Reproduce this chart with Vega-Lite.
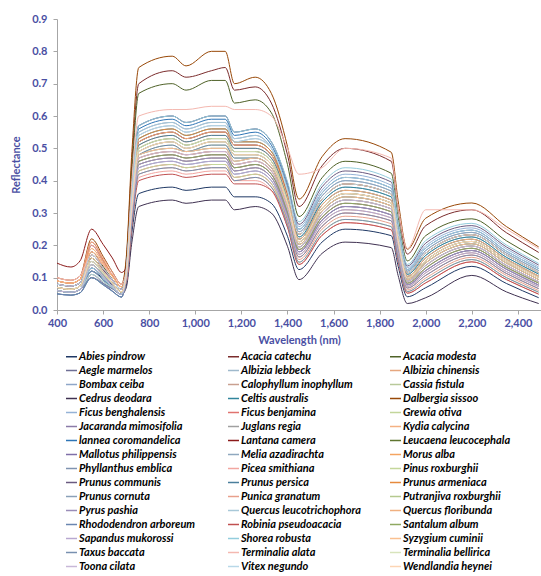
{
"$schema":"https://vega.github.io/schema/vega-lite/v6.json",
"width":484,"height":291,
"autosize":{"type":"none"},
"padding":{"left":57,"top":19,"right":0,"bottom":266},
"background":"white",
"config":{"view":{"stroke":null},"font":"Lato"},
"datasets":{
"sp":[{"k":1,"s":"Abies pindrow"},{"k":2,"s":"Acacia catechu"},{"k":3,"s":"Acacia modesta"},{"k":4,"s":"Aegle marmelos"},{"k":5,"s":"Albizia lebbeck"},{"k":6,"s":"Albizia chinensis"},{"k":7,"s":"Bombax ceiba"},{"k":8,"s":"Calophyllum  inophyllum"},{"k":9,"s":"Cassia fistula"},{"k":10,"s":"Cedrus deodara"},{"k":11,"s":"Celtis australis"},{"k":12,"s":"Dalbergia sissoo"},{"k":13,"s":"Ficus benghalensis"},{"k":14,"s":"Ficus benjamina"},{"k":15,"s":"Grewia otiva"},{"k":16,"s":"Jacaranda  mimosifolia"},{"k":17,"s":"Juglans regia"},{"k":18,"s":"Kydia calycina"},{"k":19,"s":"lannea coromandelica"},{"k":20,"s":"Lantana camera"},{"k":21,"s":"Leucaena leucocephala"},{"k":22,"s":"Mallotus philippensis"},{"k":23,"s":"Melia azadirachta"},{"k":24,"s":"Morus alba"},{"k":25,"s":"Phyllanthus emblica"},{"k":26,"s":"Picea smithiana"},{"k":27,"s":"Pinus roxburghii"},{"k":28,"s":"Prunus communis"},{"k":29,"s":"Prunus persica"},{"k":30,"s":"Prunus armeniaca"},{"k":31,"s":"Prunus cornuta"},{"k":32,"s":"Punica granatum"},{"k":33,"s":"Putranjiva roxburghii"},{"k":34,"s":"Pyrus pashia"},{"k":35,"s":"Quercus leucotrichophora"},{"k":36,"s":"Quercus floribunda"},{"k":37,"s":"Rhododendron  arboreum"},{"k":38,"s":"Robinia pseudoacacia"},{"k":39,"s":"Santalum album"},{"k":40,"s":"Sapandus  mukorossi"},{"k":41,"s":"Shorea robusta"},{"k":42,"s":"Syzygium cuminii"},{"k":43,"s":"Taxus baccata"},{"k":44,"s":"Terminalia alata"},{"k":45,"s":"Terminalia bellirica"},{"k":46,"s":"Toona cilata"},{"k":47,"s":"Vitex negundo"},{"k":48,"s":"Wendlandia heynei"}],
"refl":[
{"k":1,"w":400,"r":0.07},{"k":1,"w":460,"r":0.064},{"k":1,"w":500,"r":0.074},{"k":1,"w":550,"r":0.12},{"k":1,"w":600,"r":0.098},{"k":1,"w":640,"r":0.078},{"k":1,"w":680,"r":0.056},{"k":1,"w":700,"r":0.076},{"k":1,"w":725,"r":0.24},{"k":1,"w":755,"r":0.36},{"k":1,"w":900,"r":0.38},{"k":1,"w":960,"r":0.37},{"k":1,"w":1070,"r":0.38},{"k":1,"w":1130,"r":0.38},{"k":1,"w":1170,"r":0.35},{"k":1,"w":1260,"r":0.35},{"k":1,"w":1330,"r":0.33},{"k":1,"w":1400,"r":0.228},{"k":1,"w":1450,"r":0.125},{"k":1,"w":1550,"r":0.21},{"k":1,"w":1650,"r":0.25},{"k":1,"w":1850,"r":0.23},{"k":1,"w":1880,"r":0.136},{"k":1,"w":1920,"r":0.041},{"k":1,"w":2000,"r":0.069},{"k":1,"w":2200,"r":0.135},{"k":1,"w":2350,"r":0.082},{"k":1,"w":2490,"r":0.038},
{"k":2,"w":400,"r":0.09},{"k":2,"w":460,"r":0.083},{"k":2,"w":500,"r":0.095},{"k":2,"w":550,"r":0.2},{"k":2,"w":600,"r":0.151},{"k":2,"w":640,"r":0.107},{"k":2,"w":680,"r":0.072},{"k":2,"w":700,"r":0.148},{"k":2,"w":725,"r":0.46},{"k":2,"w":755,"r":0.7},{"k":2,"w":900,"r":0.74},{"k":2,"w":960,"r":0.72},{"k":2,"w":1070,"r":0.74},{"k":2,"w":1130,"r":0.75},{"k":2,"w":1170,"r":0.68},{"k":2,"w":1260,"r":0.69},{"k":2,"w":1330,"r":0.64},{"k":2,"w":1400,"r":0.48},{"k":2,"w":1450,"r":0.32},{"k":2,"w":1550,"r":0.446},{"k":2,"w":1650,"r":0.5},{"k":2,"w":1850,"r":0.46},{"k":2,"w":1880,"r":0.316},{"k":2,"w":1920,"r":0.173},{"k":2,"w":2000,"r":0.261},{"k":2,"w":2200,"r":0.31},{"k":2,"w":2350,"r":0.239},{"k":2,"w":2490,"r":0.178},
{"k":3,"w":400,"r":0.08},{"k":3,"w":460,"r":0.074},{"k":3,"w":500,"r":0.084},{"k":3,"w":550,"r":0.18},{"k":3,"w":600,"r":0.135},{"k":3,"w":640,"r":0.095},{"k":3,"w":680,"r":0.064},{"k":3,"w":700,"r":0.14},{"k":3,"w":725,"r":0.43},{"k":3,"w":755,"r":0.67},{"k":3,"w":900,"r":0.7},{"k":3,"w":960,"r":0.68},{"k":3,"w":1070,"r":0.71},{"k":3,"w":1130,"r":0.71},{"k":3,"w":1170,"r":0.64},{"k":3,"w":1260,"r":0.65},{"k":3,"w":1330,"r":0.61},{"k":3,"w":1400,"r":0.45},{"k":3,"w":1450,"r":0.289},{"k":3,"w":1550,"r":0.409},{"k":3,"w":1650,"r":0.46},{"k":3,"w":1850,"r":0.423},{"k":3,"w":1880,"r":0.287},{"k":3,"w":1920,"r":0.152},{"k":3,"w":2000,"r":0.23},{"k":3,"w":2200,"r":0.282},{"k":3,"w":2350,"r":0.214},{"k":3,"w":2490,"r":0.156},
{"k":4,"w":400,"r":0.07},{"k":4,"w":460,"r":0.064},{"k":4,"w":500,"r":0.074},{"k":4,"w":550,"r":0.14},{"k":4,"w":600,"r":0.109},{"k":4,"w":640,"r":0.081},{"k":4,"w":680,"r":0.056},{"k":4,"w":700,"r":0.104},{"k":4,"w":725,"r":0.32},{"k":4,"w":755,"r":0.49},{"k":4,"w":900,"r":0.52},{"k":4,"w":960,"r":0.5},{"k":4,"w":1070,"r":0.52},{"k":4,"w":1130,"r":0.52},{"k":4,"w":1170,"r":0.48},{"k":4,"w":1260,"r":0.48},{"k":4,"w":1330,"r":0.45},{"k":4,"w":1400,"r":0.33},{"k":4,"w":1450,"r":0.211},{"k":4,"w":1550,"r":0.315},{"k":4,"w":1650,"r":0.36},{"k":4,"w":1850,"r":0.331},{"k":4,"w":1880,"r":0.215},{"k":4,"w":1920,"r":0.099},{"k":4,"w":2000,"r":0.153},{"k":4,"w":2200,"r":0.212},{"k":4,"w":2350,"r":0.151},{"k":4,"w":2490,"r":0.1},
{"k":5,"w":400,"r":0.06},{"k":5,"w":460,"r":0.055},{"k":5,"w":500,"r":0.063},{"k":5,"w":550,"r":0.13},{"k":5,"w":600,"r":0.099},{"k":5,"w":640,"r":0.071},{"k":5,"w":680,"r":0.048},{"k":5,"w":700,"r":0.11},{"k":5,"w":725,"r":0.34},{"k":5,"w":755,"r":0.52},{"k":5,"w":900,"r":0.55},{"k":5,"w":960,"r":0.53},{"k":5,"w":1070,"r":0.55},{"k":5,"w":1130,"r":0.55},{"k":5,"w":1170,"r":0.51},{"k":5,"w":1260,"r":0.51},{"k":5,"w":1330,"r":0.48},{"k":5,"w":1400,"r":0.353},{"k":5,"w":1450,"r":0.226},{"k":5,"w":1550,"r":0.334},{"k":5,"w":1650,"r":0.38},{"k":5,"w":1850,"r":0.35},{"k":5,"w":1880,"r":0.23},{"k":5,"w":1920,"r":0.11},{"k":5,"w":2000,"r":0.169},{"k":5,"w":2200,"r":0.226},{"k":5,"w":2350,"r":0.163},{"k":5,"w":2490,"r":0.111},
{"k":6,"w":400,"r":0.08},{"k":6,"w":460,"r":0.074},{"k":6,"w":500,"r":0.084},{"k":6,"w":550,"r":0.16},{"k":6,"w":600,"r":0.124},{"k":6,"w":640,"r":0.092},{"k":6,"w":680,"r":0.064},{"k":6,"w":700,"r":0.096},{"k":6,"w":725,"r":0.3},{"k":6,"w":755,"r":0.46},{"k":6,"w":900,"r":0.48},{"k":6,"w":960,"r":0.47},{"k":6,"w":1070,"r":0.48},{"k":6,"w":1130,"r":0.48},{"k":6,"w":1170,"r":0.44},{"k":6,"w":1260,"r":0.45},{"k":6,"w":1330,"r":0.42},{"k":6,"w":1400,"r":0.304},{"k":6,"w":1450,"r":0.187},{"k":6,"w":1550,"r":0.287},{"k":6,"w":1650,"r":0.33},{"k":6,"w":1850,"r":0.304},{"k":6,"w":1880,"r":0.193},{"k":6,"w":1920,"r":0.083},{"k":6,"w":2000,"r":0.13},{"k":6,"w":2200,"r":0.191},{"k":6,"w":2350,"r":0.132},{"k":6,"w":2490,"r":0.083},
{"k":7,"w":400,"r":0.07},{"k":7,"w":460,"r":0.064},{"k":7,"w":500,"r":0.074},{"k":7,"w":550,"r":0.15},{"k":7,"w":600,"r":0.114},{"k":7,"w":640,"r":0.082},{"k":7,"w":680,"r":0.056},{"k":7,"w":700,"r":0.116},{"k":7,"w":725,"r":0.36},{"k":7,"w":755,"r":0.55},{"k":7,"w":900,"r":0.58},{"k":7,"w":960,"r":0.56},{"k":7,"w":1070,"r":0.58},{"k":7,"w":1130,"r":0.58},{"k":7,"w":1170,"r":0.53},{"k":7,"w":1260,"r":0.54},{"k":7,"w":1330,"r":0.5},{"k":7,"w":1400,"r":0.371},{"k":7,"w":1450,"r":0.242},{"k":7,"w":1550,"r":0.353},{"k":7,"w":1650,"r":0.4},{"k":7,"w":1850,"r":0.368},{"k":7,"w":1880,"r":0.244},{"k":7,"w":1920,"r":0.12},{"k":7,"w":2000,"r":0.184},{"k":7,"w":2200,"r":0.24},{"k":7,"w":2350,"r":0.176},{"k":7,"w":2490,"r":0.122},
{"k":8,"w":400,"r":0.06},{"k":8,"w":460,"r":0.055},{"k":8,"w":500,"r":0.063},{"k":8,"w":550,"r":0.12},{"k":8,"w":600,"r":0.093},{"k":8,"w":640,"r":0.069},{"k":8,"w":680,"r":0.048},{"k":8,"w":700,"r":0.094},{"k":8,"w":725,"r":0.29},{"k":8,"w":755,"r":0.45},{"k":8,"w":900,"r":0.47},{"k":8,"w":960,"r":0.46},{"k":8,"w":1070,"r":0.47},{"k":8,"w":1130,"r":0.47},{"k":8,"w":1170,"r":0.43},{"k":8,"w":1260,"r":0.44},{"k":8,"w":1330,"r":0.41},{"k":8,"w":1400,"r":0.291},{"k":8,"w":1450,"r":0.172},{"k":8,"w":1550,"r":0.269},{"k":8,"w":1650,"r":0.31},{"k":8,"w":1850,"r":0.285},{"k":8,"w":1880,"r":0.179},{"k":8,"w":1920,"r":0.073},{"k":8,"w":2000,"r":0.115},{"k":8,"w":2200,"r":0.177},{"k":8,"w":2350,"r":0.119},{"k":8,"w":2490,"r":0.072},
{"k":9,"w":400,"r":0.07},{"k":9,"w":460,"r":0.064},{"k":9,"w":500,"r":0.074},{"k":9,"w":550,"r":0.15},{"k":9,"w":600,"r":0.114},{"k":9,"w":640,"r":0.082},{"k":9,"w":680,"r":0.056},{"k":9,"w":700,"r":0.1},{"k":9,"w":725,"r":0.31},{"k":9,"w":755,"r":0.48},{"k":9,"w":900,"r":0.5},{"k":9,"w":960,"r":0.49},{"k":9,"w":1070,"r":0.5},{"k":9,"w":1130,"r":0.5},{"k":9,"w":1170,"r":0.46},{"k":9,"w":1260,"r":0.47},{"k":9,"w":1330,"r":0.44},{"k":9,"w":1400,"r":0.318},{"k":9,"w":1450,"r":0.195},{"k":9,"w":1550,"r":0.297},{"k":9,"w":1650,"r":0.34},{"k":9,"w":1850,"r":0.313},{"k":9,"w":1880,"r":0.201},{"k":9,"w":1920,"r":0.089},{"k":9,"w":2000,"r":0.138},{"k":9,"w":2200,"r":0.198},{"k":9,"w":2350,"r":0.138},{"k":9,"w":2490,"r":0.088},
{"k":10,"w":400,"r":0.06},{"k":10,"w":460,"r":0.055},{"k":10,"w":500,"r":0.063},{"k":10,"w":550,"r":0.1},{"k":10,"w":600,"r":0.082},{"k":10,"w":640,"r":0.066},{"k":10,"w":680,"r":0.048},{"k":10,"w":700,"r":0.068},{"k":10,"w":725,"r":0.21},{"k":10,"w":755,"r":0.32},{"k":10,"w":900,"r":0.34},{"k":10,"w":960,"r":0.33},{"k":10,"w":1070,"r":0.34},{"k":10,"w":1130,"r":0.34},{"k":10,"w":1170,"r":0.31},{"k":10,"w":1260,"r":0.32},{"k":10,"w":1330,"r":0.3},{"k":10,"w":1400,"r":0.197},{"k":10,"w":1450,"r":0.094},{"k":10,"w":1550,"r":0.175},{"k":10,"w":1650,"r":0.21},{"k":10,"w":1850,"r":0.193},{"k":10,"w":1880,"r":0.107},{"k":10,"w":1920,"r":0.02},{"k":10,"w":2000,"r":0.038},{"k":10,"w":2200,"r":0.107},{"k":10,"w":2350,"r":0.056},{"k":10,"w":2490,"r":0.02},
{"k":11,"w":400,"r":0.08},{"k":11,"w":460,"r":0.074},{"k":11,"w":500,"r":0.084},{"k":11,"w":550,"r":0.17},{"k":11,"w":600,"r":0.13},{"k":11,"w":640,"r":0.094},{"k":11,"w":680,"r":0.064},{"k":11,"w":700,"r":0.112},{"k":11,"w":725,"r":0.35},{"k":11,"w":755,"r":0.53},{"k":11,"w":900,"r":0.56},{"k":11,"w":960,"r":0.54},{"k":11,"w":1070,"r":0.56},{"k":11,"w":1130,"r":0.56},{"k":11,"w":1170,"r":0.52},{"k":11,"w":1260,"r":0.52},{"k":11,"w":1330,"r":0.49},{"k":11,"w":1400,"r":0.358},{"k":11,"w":1450,"r":0.226},{"k":11,"w":1550,"r":0.334},{"k":11,"w":1650,"r":0.38},{"k":11,"w":1850,"r":0.35},{"k":11,"w":1880,"r":0.23},{"k":11,"w":1920,"r":0.11},{"k":11,"w":2000,"r":0.169},{"k":11,"w":2200,"r":0.226},{"k":11,"w":2350,"r":0.163},{"k":11,"w":2490,"r":0.111},
{"k":12,"w":400,"r":0.1},{"k":12,"w":460,"r":0.092},{"k":12,"w":500,"r":0.105},{"k":12,"w":550,"r":0.22},{"k":12,"w":600,"r":0.166},{"k":12,"w":640,"r":0.118},{"k":12,"w":680,"r":0.08},{"k":12,"w":700,"r":0.158},{"k":12,"w":725,"r":0.49},{"k":12,"w":755,"r":0.75},{"k":12,"w":900,"r":0.785},{"k":12,"w":960,"r":0.755},{"k":12,"w":1070,"r":0.8},{"k":12,"w":1130,"r":0.8},{"k":12,"w":1170,"r":0.7},{"k":12,"w":1260,"r":0.72},{"k":12,"w":1330,"r":0.67},{"k":12,"w":1400,"r":0.506},{"k":12,"w":1450,"r":0.343},{"k":12,"w":1550,"r":0.474},{"k":12,"w":1650,"r":0.53},{"k":12,"w":1850,"r":0.488},{"k":12,"w":1880,"r":0.338},{"k":12,"w":1920,"r":0.188},{"k":12,"w":2000,"r":0.284},{"k":12,"w":2200,"r":0.331},{"k":12,"w":2350,"r":0.258},{"k":12,"w":2490,"r":0.195},
{"k":13,"w":400,"r":0.06},{"k":13,"w":460,"r":0.055},{"k":13,"w":500,"r":0.063},{"k":13,"w":550,"r":0.12},{"k":13,"w":600,"r":0.093},{"k":13,"w":640,"r":0.069},{"k":13,"w":680,"r":0.048},{"k":13,"w":700,"r":0.12},{"k":13,"w":725,"r":0.37},{"k":13,"w":755,"r":0.57},{"k":13,"w":900,"r":0.6},{"k":13,"w":960,"r":0.58},{"k":13,"w":1070,"r":0.6},{"k":13,"w":1130,"r":0.6},{"k":13,"w":1170,"r":0.55},{"k":13,"w":1260,"r":0.56},{"k":13,"w":1330,"r":0.52},{"k":13,"w":1400,"r":0.389},{"k":13,"w":1450,"r":0.258},{"k":13,"w":1550,"r":0.371},{"k":13,"w":1650,"r":0.42},{"k":13,"w":1850,"r":0.386},{"k":13,"w":1880,"r":0.258},{"k":13,"w":1920,"r":0.131},{"k":13,"w":2000,"r":0.199},{"k":13,"w":2200,"r":0.254},{"k":13,"w":2350,"r":0.189},{"k":13,"w":2490,"r":0.133},
{"k":14,"w":400,"r":0.09},{"k":14,"w":460,"r":0.083},{"k":14,"w":500,"r":0.095},{"k":14,"w":550,"r":0.18},{"k":14,"w":600,"r":0.14},{"k":14,"w":640,"r":0.104},{"k":14,"w":680,"r":0.072},{"k":14,"w":700,"r":0.09},{"k":14,"w":725,"r":0.28},{"k":14,"w":755,"r":0.43},{"k":14,"w":900,"r":0.45},{"k":14,"w":960,"r":0.44},{"k":14,"w":1070,"r":0.45},{"k":14,"w":1130,"r":0.45},{"k":14,"w":1170,"r":0.41},{"k":14,"w":1260,"r":0.42},{"k":14,"w":1330,"r":0.39},{"k":14,"w":1400,"r":0.277},{"k":14,"w":1450,"r":0.164},{"k":14,"w":1550,"r":0.259},{"k":14,"w":1650,"r":0.3},{"k":14,"w":1850,"r":0.276},{"k":14,"w":1880,"r":0.172},{"k":14,"w":1920,"r":0.068},{"k":14,"w":2000,"r":0.107},{"k":14,"w":2200,"r":0.17},{"k":14,"w":2350,"r":0.113},{"k":14,"w":2490,"r":0.066},
{"k":15,"w":400,"r":0.07},{"k":15,"w":460,"r":0.064},{"k":15,"w":500,"r":0.074},{"k":15,"w":550,"r":0.15},{"k":15,"w":600,"r":0.114},{"k":15,"w":640,"r":0.082},{"k":15,"w":680,"r":0.056},{"k":15,"w":700,"r":0.102},{"k":15,"w":725,"r":0.32},{"k":15,"w":755,"r":0.48},{"k":15,"w":900,"r":0.51},{"k":15,"w":960,"r":0.49},{"k":15,"w":1070,"r":0.51},{"k":15,"w":1130,"r":0.51},{"k":15,"w":1170,"r":0.47},{"k":15,"w":1260,"r":0.47},{"k":15,"w":1330,"r":0.44},{"k":15,"w":1400,"r":0.322},{"k":15,"w":1450,"r":0.203},{"k":15,"w":1550,"r":0.306},{"k":15,"w":1650,"r":0.35},{"k":15,"w":1850,"r":0.322},{"k":15,"w":1880,"r":0.208},{"k":15,"w":1920,"r":0.094},{"k":15,"w":2000,"r":0.146},{"k":15,"w":2200,"r":0.205},{"k":15,"w":2350,"r":0.145},{"k":15,"w":2490,"r":0.094},
{"k":16,"w":400,"r":0.06},{"k":16,"w":460,"r":0.055},{"k":16,"w":500,"r":0.063},{"k":16,"w":550,"r":0.13},{"k":16,"w":600,"r":0.099},{"k":16,"w":640,"r":0.071},{"k":16,"w":680,"r":0.048},{"k":16,"w":700,"r":0.098},{"k":16,"w":725,"r":0.3},{"k":16,"w":755,"r":0.47},{"k":16,"w":900,"r":0.49},{"k":16,"w":960,"r":0.48},{"k":16,"w":1070,"r":0.49},{"k":16,"w":1130,"r":0.49},{"k":16,"w":1170,"r":0.45},{"k":16,"w":1260,"r":0.46},{"k":16,"w":1330,"r":0.43},{"k":16,"w":1400,"r":0.309},{"k":16,"w":1450,"r":0.187},{"k":16,"w":1550,"r":0.287},{"k":16,"w":1650,"r":0.33},{"k":16,"w":1850,"r":0.304},{"k":16,"w":1880,"r":0.193},{"k":16,"w":1920,"r":0.083},{"k":16,"w":2000,"r":0.13},{"k":16,"w":2200,"r":0.191},{"k":16,"w":2350,"r":0.132},{"k":16,"w":2490,"r":0.083},
{"k":17,"w":400,"r":0.07},{"k":17,"w":460,"r":0.064},{"k":17,"w":500,"r":0.074},{"k":17,"w":550,"r":0.14},{"k":17,"w":600,"r":0.109},{"k":17,"w":640,"r":0.081},{"k":17,"w":680,"r":0.056},{"k":17,"w":700,"r":0.094},{"k":17,"w":725,"r":0.29},{"k":17,"w":755,"r":0.45},{"k":17,"w":900,"r":0.47},{"k":17,"w":960,"r":0.46},{"k":17,"w":1070,"r":0.47},{"k":17,"w":1130,"r":0.47},{"k":17,"w":1170,"r":0.43},{"k":17,"w":1260,"r":0.44},{"k":17,"w":1330,"r":0.41},{"k":17,"w":1400,"r":0.295},{"k":17,"w":1450,"r":0.18},{"k":17,"w":1550,"r":0.278},{"k":17,"w":1650,"r":0.32},{"k":17,"w":1850,"r":0.294},{"k":17,"w":1880,"r":0.186},{"k":17,"w":1920,"r":0.078},{"k":17,"w":2000,"r":0.122},{"k":17,"w":2200,"r":0.184},{"k":17,"w":2350,"r":0.126},{"k":17,"w":2490,"r":0.077},
{"k":18,"w":400,"r":0.08},{"k":18,"w":460,"r":0.074},{"k":18,"w":500,"r":0.084},{"k":18,"w":550,"r":0.17},{"k":18,"w":600,"r":0.13},{"k":18,"w":640,"r":0.094},{"k":18,"w":680,"r":0.064},{"k":18,"w":700,"r":0.108},{"k":18,"w":725,"r":0.33},{"k":18,"w":755,"r":0.51},{"k":18,"w":900,"r":0.54},{"k":18,"w":960,"r":0.52},{"k":18,"w":1070,"r":0.54},{"k":18,"w":1130,"r":0.54},{"k":18,"w":1170,"r":0.5},{"k":18,"w":1260,"r":0.5},{"k":18,"w":1330,"r":0.47},{"k":18,"w":1400,"r":0.345},{"k":18,"w":1450,"r":0.219},{"k":18,"w":1550,"r":0.325},{"k":18,"w":1650,"r":0.37},{"k":18,"w":1850,"r":0.34},{"k":18,"w":1880,"r":0.222},{"k":18,"w":1920,"r":0.104},{"k":18,"w":2000,"r":0.161},{"k":18,"w":2200,"r":0.219},{"k":18,"w":2350,"r":0.157},{"k":18,"w":2490,"r":0.105},
{"k":19,"w":400,"r":0.06},{"k":19,"w":460,"r":0.055},{"k":19,"w":500,"r":0.063},{"k":19,"w":550,"r":0.12},{"k":19,"w":600,"r":0.093},{"k":19,"w":640,"r":0.069},{"k":19,"w":680,"r":0.048},{"k":19,"w":700,"r":0.118},{"k":19,"w":725,"r":0.37},{"k":19,"w":755,"r":0.56},{"k":19,"w":900,"r":0.59},{"k":19,"w":960,"r":0.57},{"k":19,"w":1070,"r":0.59},{"k":19,"w":1130,"r":0.59},{"k":19,"w":1170,"r":0.54},{"k":19,"w":1260,"r":0.55},{"k":19,"w":1330,"r":0.51},{"k":19,"w":1400,"r":0.38},{"k":19,"w":1450,"r":0.25},{"k":19,"w":1550,"r":0.362},{"k":19,"w":1650,"r":0.41},{"k":19,"w":1850,"r":0.377},{"k":19,"w":1880,"r":0.251},{"k":19,"w":1920,"r":0.125},{"k":19,"w":2000,"r":0.192},{"k":19,"w":2200,"r":0.247},{"k":19,"w":2350,"r":0.182},{"k":19,"w":2490,"r":0.128},
{"k":20,"w":400,"r":0.145},{"k":20,"w":460,"r":0.133},{"k":20,"w":500,"r":0.152},{"k":20,"w":550,"r":0.25},{"k":20,"w":600,"r":0.203},{"k":20,"w":640,"r":0.161},{"k":20,"w":680,"r":0.116},{"k":20,"w":700,"r":0.13},{"k":20,"w":725,"r":0.34},{"k":20,"w":755,"r":0.52},{"k":20,"w":900,"r":0.55},{"k":20,"w":960,"r":0.53},{"k":20,"w":1070,"r":0.55},{"k":20,"w":1130,"r":0.55},{"k":20,"w":1170,"r":0.51},{"k":20,"w":1260,"r":0.51},{"k":20,"w":1330,"r":0.48},{"k":20,"w":1400,"r":0.357},{"k":20,"w":1450,"r":0.234},{"k":20,"w":1550,"r":0.343},{"k":20,"w":1650,"r":0.39},{"k":20,"w":1850,"r":0.359},{"k":20,"w":1880,"r":0.237},{"k":20,"w":1920,"r":0.115},{"k":20,"w":2000,"r":0.176},{"k":20,"w":2200,"r":0.233},{"k":20,"w":2350,"r":0.17},{"k":20,"w":2490,"r":0.116},
{"k":21,"w":400,"r":0.07},{"k":21,"w":460,"r":0.064},{"k":21,"w":500,"r":0.074},{"k":21,"w":550,"r":0.16},{"k":21,"w":600,"r":0.12},{"k":21,"w":640,"r":0.084},{"k":21,"w":680,"r":0.056},{"k":21,"w":700,"r":0.106},{"k":21,"w":725,"r":0.33},{"k":21,"w":755,"r":0.5},{"k":21,"w":900,"r":0.53},{"k":21,"w":960,"r":0.51},{"k":21,"w":1070,"r":0.53},{"k":21,"w":1130,"r":0.53},{"k":21,"w":1170,"r":0.49},{"k":21,"w":1260,"r":0.49},{"k":21,"w":1330,"r":0.46},{"k":21,"w":1400,"r":0.336},{"k":21,"w":1450,"r":0.211},{"k":21,"w":1550,"r":0.315},{"k":21,"w":1650,"r":0.36},{"k":21,"w":1850,"r":0.331},{"k":21,"w":1880,"r":0.215},{"k":21,"w":1920,"r":0.099},{"k":21,"w":2000,"r":0.153},{"k":21,"w":2200,"r":0.212},{"k":21,"w":2350,"r":0.151},{"k":21,"w":2490,"r":0.1},
{"k":22,"w":400,"r":0.05},{"k":22,"w":460,"r":0.046},{"k":22,"w":500,"r":0.053},{"k":22,"w":550,"r":0.11},{"k":22,"w":600,"r":0.083},{"k":22,"w":640,"r":0.059},{"k":22,"w":680,"r":0.04},{"k":22,"w":700,"r":0.096},{"k":22,"w":725,"r":0.3},{"k":22,"w":755,"r":0.46},{"k":22,"w":900,"r":0.48},{"k":22,"w":960,"r":0.47},{"k":22,"w":1070,"r":0.48},{"k":22,"w":1130,"r":0.48},{"k":22,"w":1170,"r":0.44},{"k":22,"w":1260,"r":0.45},{"k":22,"w":1330,"r":0.42},{"k":22,"w":1400,"r":0.3},{"k":22,"w":1450,"r":0.18},{"k":22,"w":1550,"r":0.278},{"k":22,"w":1650,"r":0.32},{"k":22,"w":1850,"r":0.294},{"k":22,"w":1880,"r":0.186},{"k":22,"w":1920,"r":0.078},{"k":22,"w":2000,"r":0.122},{"k":22,"w":2200,"r":0.184},{"k":22,"w":2350,"r":0.126},{"k":22,"w":2490,"r":0.077},
{"k":23,"w":400,"r":0.07},{"k":23,"w":460,"r":0.064},{"k":23,"w":500,"r":0.074},{"k":23,"w":550,"r":0.14},{"k":23,"w":600,"r":0.109},{"k":23,"w":640,"r":0.081},{"k":23,"w":680,"r":0.056},{"k":23,"w":700,"r":0.114},{"k":23,"w":725,"r":0.35},{"k":23,"w":755,"r":0.54},{"k":23,"w":900,"r":0.57},{"k":23,"w":960,"r":0.55},{"k":23,"w":1070,"r":0.57},{"k":23,"w":1130,"r":0.57},{"k":23,"w":1170,"r":0.52},{"k":23,"w":1260,"r":0.53},{"k":23,"w":1330,"r":0.5},{"k":23,"w":1400,"r":0.371},{"k":23,"w":1450,"r":0.242},{"k":23,"w":1550,"r":0.353},{"k":23,"w":1650,"r":0.4},{"k":23,"w":1850,"r":0.368},{"k":23,"w":1880,"r":0.244},{"k":23,"w":1920,"r":0.12},{"k":23,"w":2000,"r":0.184},{"k":23,"w":2200,"r":0.24},{"k":23,"w":2350,"r":0.176},{"k":23,"w":2490,"r":0.122},
{"k":24,"w":400,"r":0.09},{"k":24,"w":460,"r":0.083},{"k":24,"w":500,"r":0.095},{"k":24,"w":550,"r":0.19},{"k":24,"w":600,"r":0.145},{"k":24,"w":640,"r":0.105},{"k":24,"w":680,"r":0.072},{"k":24,"w":700,"r":0.098},{"k":24,"w":725,"r":0.3},{"k":24,"w":755,"r":0.47},{"k":24,"w":900,"r":0.49},{"k":24,"w":960,"r":0.48},{"k":24,"w":1070,"r":0.49},{"k":24,"w":1130,"r":0.49},{"k":24,"w":1170,"r":0.45},{"k":24,"w":1260,"r":0.46},{"k":24,"w":1330,"r":0.43},{"k":24,"w":1400,"r":0.313},{"k":24,"w":1450,"r":0.195},{"k":24,"w":1550,"r":0.297},{"k":24,"w":1650,"r":0.34},{"k":24,"w":1850,"r":0.313},{"k":24,"w":1880,"r":0.201},{"k":24,"w":1920,"r":0.089},{"k":24,"w":2000,"r":0.138},{"k":24,"w":2200,"r":0.198},{"k":24,"w":2350,"r":0.138},{"k":24,"w":2490,"r":0.088},
{"k":25,"w":400,"r":0.06},{"k":25,"w":460,"r":0.055},{"k":25,"w":500,"r":0.063},{"k":25,"w":550,"r":0.12},{"k":25,"w":600,"r":0.093},{"k":25,"w":640,"r":0.069},{"k":25,"w":680,"r":0.048},{"k":25,"w":700,"r":0.092},{"k":25,"w":725,"r":0.29},{"k":25,"w":755,"r":0.44},{"k":25,"w":900,"r":0.46},{"k":25,"w":960,"r":0.45},{"k":25,"w":1070,"r":0.46},{"k":25,"w":1130,"r":0.46},{"k":25,"w":1170,"r":0.42},{"k":25,"w":1260,"r":0.43},{"k":25,"w":1330,"r":0.4},{"k":25,"w":1400,"r":0.282},{"k":25,"w":1450,"r":0.164},{"k":25,"w":1550,"r":0.259},{"k":25,"w":1650,"r":0.3},{"k":25,"w":1850,"r":0.276},{"k":25,"w":1880,"r":0.172},{"k":25,"w":1920,"r":0.068},{"k":25,"w":2000,"r":0.107},{"k":25,"w":2200,"r":0.17},{"k":25,"w":2350,"r":0.113},{"k":25,"w":2490,"r":0.066},
{"k":26,"w":400,"r":0.09},{"k":26,"w":460,"r":0.083},{"k":26,"w":500,"r":0.095},{"k":26,"w":550,"r":0.2},{"k":26,"w":600,"r":0.151},{"k":26,"w":640,"r":0.107},{"k":26,"w":680,"r":0.072},{"k":26,"w":700,"r":0.086},{"k":26,"w":725,"r":0.27},{"k":26,"w":755,"r":0.41},{"k":26,"w":900,"r":0.43},{"k":26,"w":960,"r":0.42},{"k":26,"w":1070,"r":0.43},{"k":26,"w":1130,"r":0.43},{"k":26,"w":1170,"r":0.4},{"k":26,"w":1260,"r":0.4},{"k":26,"w":1330,"r":0.37},{"k":26,"w":1400,"r":0.256},{"k":26,"w":1450,"r":0.141},{"k":26,"w":1550,"r":0.231},{"k":26,"w":1650,"r":0.27},{"k":26,"w":1850,"r":0.248},{"k":26,"w":1880,"r":0.15},{"k":26,"w":1920,"r":0.052},{"k":26,"w":2000,"r":0.084},{"k":26,"w":2200,"r":0.149},{"k":26,"w":2350,"r":0.094},{"k":26,"w":2490,"r":0.049},
{"k":27,"w":400,"r":0.06},{"k":27,"w":460,"r":0.055},{"k":27,"w":500,"r":0.063},{"k":27,"w":550,"r":0.11},{"k":27,"w":600,"r":0.088},{"k":27,"w":640,"r":0.068},{"k":27,"w":680,"r":0.048},{"k":27,"w":700,"r":0.09},{"k":27,"w":725,"r":0.28},{"k":27,"w":755,"r":0.43},{"k":27,"w":900,"r":0.45},{"k":27,"w":960,"r":0.44},{"k":27,"w":1070,"r":0.45},{"k":27,"w":1130,"r":0.45},{"k":27,"w":1170,"r":0.41},{"k":27,"w":1260,"r":0.42},{"k":27,"w":1330,"r":0.39},{"k":27,"w":1400,"r":0.269},{"k":27,"w":1450,"r":0.148},{"k":27,"w":1550,"r":0.24},{"k":27,"w":1650,"r":0.28},{"k":27,"w":1850,"r":0.258},{"k":27,"w":1880,"r":0.157},{"k":27,"w":1920,"r":0.057},{"k":27,"w":2000,"r":0.092},{"k":27,"w":2200,"r":0.156},{"k":27,"w":2350,"r":0.1},{"k":27,"w":2490,"r":0.055},
{"k":28,"w":400,"r":0.08},{"k":28,"w":460,"r":0.074},{"k":28,"w":500,"r":0.084},{"k":28,"w":550,"r":0.16},{"k":28,"w":600,"r":0.124},{"k":28,"w":640,"r":0.092},{"k":28,"w":680,"r":0.064},{"k":28,"w":700,"r":0.12},{"k":28,"w":725,"r":0.37},{"k":28,"w":755,"r":0.57},{"k":28,"w":900,"r":0.6},{"k":28,"w":960,"r":0.58},{"k":28,"w":1070,"r":0.6},{"k":28,"w":1130,"r":0.6},{"k":28,"w":1170,"r":0.55},{"k":28,"w":1260,"r":0.56},{"k":28,"w":1330,"r":0.52},{"k":28,"w":1400,"r":0.393},{"k":28,"w":1450,"r":0.265},{"k":28,"w":1550,"r":0.381},{"k":28,"w":1650,"r":0.43},{"k":28,"w":1850,"r":0.396},{"k":28,"w":1880,"r":0.266},{"k":28,"w":1920,"r":0.136},{"k":28,"w":2000,"r":0.207},{"k":28,"w":2200,"r":0.261},{"k":28,"w":2350,"r":0.195},{"k":28,"w":2490,"r":0.139},
{"k":29,"w":400,"r":0.05},{"k":29,"w":460,"r":0.046},{"k":29,"w":500,"r":0.053},{"k":29,"w":550,"r":0.1},{"k":29,"w":600,"r":0.078},{"k":29,"w":640,"r":0.058},{"k":29,"w":680,"r":0.04},{"k":29,"w":700,"r":0.108},{"k":29,"w":725,"r":0.33},{"k":29,"w":755,"r":0.51},{"k":29,"w":900,"r":0.54},{"k":29,"w":960,"r":0.52},{"k":29,"w":1070,"r":0.54},{"k":29,"w":1130,"r":0.54},{"k":29,"w":1170,"r":0.5},{"k":29,"w":1260,"r":0.5},{"k":29,"w":1330,"r":0.47},{"k":29,"w":1400,"r":0.345},{"k":29,"w":1450,"r":0.219},{"k":29,"w":1550,"r":0.325},{"k":29,"w":1650,"r":0.37},{"k":29,"w":1850,"r":0.34},{"k":29,"w":1880,"r":0.222},{"k":29,"w":1920,"r":0.104},{"k":29,"w":2000,"r":0.161},{"k":29,"w":2200,"r":0.219},{"k":29,"w":2350,"r":0.157},{"k":29,"w":2490,"r":0.105},
{"k":30,"w":400,"r":0.09},{"k":30,"w":460,"r":0.083},{"k":30,"w":500,"r":0.095},{"k":30,"w":550,"r":0.21},{"k":30,"w":600,"r":0.156},{"k":30,"w":640,"r":0.108},{"k":30,"w":680,"r":0.072},{"k":30,"w":700,"r":0.112},{"k":30,"w":725,"r":0.35},{"k":30,"w":755,"r":0.53},{"k":30,"w":900,"r":0.56},{"k":30,"w":960,"r":0.54},{"k":30,"w":1070,"r":0.56},{"k":30,"w":1130,"r":0.56},{"k":30,"w":1170,"r":0.52},{"k":30,"w":1260,"r":0.52},{"k":30,"w":1330,"r":0.49},{"k":30,"w":1400,"r":0.362},{"k":30,"w":1450,"r":0.234},{"k":30,"w":1550,"r":0.343},{"k":30,"w":1650,"r":0.39},{"k":30,"w":1850,"r":0.359},{"k":30,"w":1880,"r":0.237},{"k":30,"w":1920,"r":0.115},{"k":30,"w":2000,"r":0.176},{"k":30,"w":2200,"r":0.233},{"k":30,"w":2350,"r":0.17},{"k":30,"w":2490,"r":0.116},
{"k":31,"w":400,"r":0.06},{"k":31,"w":460,"r":0.055},{"k":31,"w":500,"r":0.063},{"k":31,"w":550,"r":0.13},{"k":31,"w":600,"r":0.099},{"k":31,"w":640,"r":0.071},{"k":31,"w":680,"r":0.048},{"k":31,"w":700,"r":0.1},{"k":31,"w":725,"r":0.31},{"k":31,"w":755,"r":0.48},{"k":31,"w":900,"r":0.5},{"k":31,"w":960,"r":0.49},{"k":31,"w":1070,"r":0.5},{"k":31,"w":1130,"r":0.5},{"k":31,"w":1170,"r":0.46},{"k":31,"w":1260,"r":0.47},{"k":31,"w":1330,"r":0.44},{"k":31,"w":1400,"r":0.318},{"k":31,"w":1450,"r":0.195},{"k":31,"w":1550,"r":0.297},{"k":31,"w":1650,"r":0.34},{"k":31,"w":1850,"r":0.313},{"k":31,"w":1880,"r":0.201},{"k":31,"w":1920,"r":0.089},{"k":31,"w":2000,"r":0.138},{"k":31,"w":2200,"r":0.198},{"k":31,"w":2350,"r":0.138},{"k":31,"w":2490,"r":0.088},
{"k":32,"w":400,"r":0.1},{"k":32,"w":460,"r":0.092},{"k":32,"w":500,"r":0.105},{"k":32,"w":550,"r":0.21},{"k":32,"w":600,"r":0.161},{"k":32,"w":640,"r":0.117},{"k":32,"w":680,"r":0.08},{"k":32,"w":700,"r":0.088},{"k":32,"w":725,"r":0.27},{"k":32,"w":755,"r":0.42},{"k":32,"w":900,"r":0.44},{"k":32,"w":960,"r":0.43},{"k":32,"w":1070,"r":0.44},{"k":32,"w":1130,"r":0.44},{"k":32,"w":1170,"r":0.4},{"k":32,"w":1260,"r":0.41},{"k":32,"w":1330,"r":0.38},{"k":32,"w":1400,"r":0.268},{"k":32,"w":1450,"r":0.156},{"k":32,"w":1550,"r":0.25},{"k":32,"w":1650,"r":0.29},{"k":32,"w":1850,"r":0.267},{"k":32,"w":1880,"r":0.164},{"k":32,"w":1920,"r":0.062},{"k":32,"w":2000,"r":0.099},{"k":32,"w":2200,"r":0.163},{"k":32,"w":2350,"r":0.107},{"k":32,"w":2490,"r":0.06},
{"k":33,"w":400,"r":0.06},{"k":33,"w":460,"r":0.055},{"k":33,"w":500,"r":0.063},{"k":33,"w":550,"r":0.14},{"k":33,"w":600,"r":0.104},{"k":33,"w":640,"r":0.072},{"k":33,"w":680,"r":0.048},{"k":33,"w":700,"r":0.104},{"k":33,"w":725,"r":0.32},{"k":33,"w":755,"r":0.49},{"k":33,"w":900,"r":0.52},{"k":33,"w":960,"r":0.5},{"k":33,"w":1070,"r":0.52},{"k":33,"w":1130,"r":0.52},{"k":33,"w":1170,"r":0.48},{"k":33,"w":1260,"r":0.48},{"k":33,"w":1330,"r":0.45},{"k":33,"w":1400,"r":0.327},{"k":33,"w":1450,"r":0.203},{"k":33,"w":1550,"r":0.306},{"k":33,"w":1650,"r":0.35},{"k":33,"w":1850,"r":0.322},{"k":33,"w":1880,"r":0.208},{"k":33,"w":1920,"r":0.094},{"k":33,"w":2000,"r":0.146},{"k":33,"w":2200,"r":0.205},{"k":33,"w":2350,"r":0.145},{"k":33,"w":2490,"r":0.094},
{"k":34,"w":400,"r":0.07},{"k":34,"w":460,"r":0.064},{"k":34,"w":500,"r":0.074},{"k":34,"w":550,"r":0.13},{"k":34,"w":600,"r":0.103},{"k":34,"w":640,"r":0.079},{"k":34,"w":680,"r":0.056},{"k":34,"w":700,"r":0.094},{"k":34,"w":725,"r":0.29},{"k":34,"w":755,"r":0.45},{"k":34,"w":900,"r":0.47},{"k":34,"w":960,"r":0.46},{"k":34,"w":1070,"r":0.47},{"k":34,"w":1130,"r":0.47},{"k":34,"w":1170,"r":0.43},{"k":34,"w":1260,"r":0.44},{"k":34,"w":1330,"r":0.41},{"k":34,"w":1400,"r":0.295},{"k":34,"w":1450,"r":0.18},{"k":34,"w":1550,"r":0.278},{"k":34,"w":1650,"r":0.32},{"k":34,"w":1850,"r":0.294},{"k":34,"w":1880,"r":0.186},{"k":34,"w":1920,"r":0.078},{"k":34,"w":2000,"r":0.122},{"k":34,"w":2200,"r":0.184},{"k":34,"w":2350,"r":0.126},{"k":34,"w":2490,"r":0.077},
{"k":35,"w":400,"r":0.06},{"k":35,"w":460,"r":0.055},{"k":35,"w":500,"r":0.063},{"k":35,"w":550,"r":0.11},{"k":35,"w":600,"r":0.088},{"k":35,"w":640,"r":0.068},{"k":35,"w":680,"r":0.048},{"k":35,"w":700,"r":0.116},{"k":35,"w":725,"r":0.36},{"k":35,"w":755,"r":0.55},{"k":35,"w":900,"r":0.58},{"k":35,"w":960,"r":0.56},{"k":35,"w":1070,"r":0.58},{"k":35,"w":1130,"r":0.58},{"k":35,"w":1170,"r":0.53},{"k":35,"w":1260,"r":0.54},{"k":35,"w":1330,"r":0.5},{"k":35,"w":1400,"r":0.375},{"k":35,"w":1450,"r":0.25},{"k":35,"w":1550,"r":0.362},{"k":35,"w":1650,"r":0.41},{"k":35,"w":1850,"r":0.377},{"k":35,"w":1880,"r":0.251},{"k":35,"w":1920,"r":0.125},{"k":35,"w":2000,"r":0.192},{"k":35,"w":2200,"r":0.247},{"k":35,"w":2350,"r":0.182},{"k":35,"w":2490,"r":0.128},
{"k":36,"w":400,"r":0.07},{"k":36,"w":460,"r":0.064},{"k":36,"w":500,"r":0.074},{"k":36,"w":550,"r":0.15},{"k":36,"w":600,"r":0.114},{"k":36,"w":640,"r":0.082},{"k":36,"w":680,"r":0.056},{"k":36,"w":700,"r":0.11},{"k":36,"w":725,"r":0.34},{"k":36,"w":755,"r":0.52},{"k":36,"w":900,"r":0.55},{"k":36,"w":960,"r":0.53},{"k":36,"w":1070,"r":0.55},{"k":36,"w":1130,"r":0.55},{"k":36,"w":1170,"r":0.51},{"k":36,"w":1260,"r":0.51},{"k":36,"w":1330,"r":0.48},{"k":36,"w":1400,"r":0.35},{"k":36,"w":1450,"r":0.219},{"k":36,"w":1550,"r":0.325},{"k":36,"w":1650,"r":0.37},{"k":36,"w":1850,"r":0.34},{"k":36,"w":1880,"r":0.222},{"k":36,"w":1920,"r":0.104},{"k":36,"w":2000,"r":0.161},{"k":36,"w":2200,"r":0.219},{"k":36,"w":2350,"r":0.157},{"k":36,"w":2490,"r":0.105},
{"k":37,"w":400,"r":0.05},{"k":37,"w":460,"r":0.046},{"k":37,"w":500,"r":0.053},{"k":37,"w":550,"r":0.1},{"k":37,"w":600,"r":0.078},{"k":37,"w":640,"r":0.058},{"k":37,"w":680,"r":0.04},{"k":37,"w":700,"r":0.102},{"k":37,"w":725,"r":0.32},{"k":37,"w":755,"r":0.48},{"k":37,"w":900,"r":0.51},{"k":37,"w":960,"r":0.49},{"k":37,"w":1070,"r":0.51},{"k":37,"w":1130,"r":0.51},{"k":37,"w":1170,"r":0.47},{"k":37,"w":1260,"r":0.47},{"k":37,"w":1330,"r":0.44},{"k":37,"w":1400,"r":0.322},{"k":37,"w":1450,"r":0.203},{"k":37,"w":1550,"r":0.306},{"k":37,"w":1650,"r":0.35},{"k":37,"w":1850,"r":0.322},{"k":37,"w":1880,"r":0.208},{"k":37,"w":1920,"r":0.094},{"k":37,"w":2000,"r":0.146},{"k":37,"w":2200,"r":0.205},{"k":37,"w":2350,"r":0.145},{"k":37,"w":2490,"r":0.094},
{"k":38,"w":400,"r":0.08},{"k":38,"w":460,"r":0.074},{"k":38,"w":500,"r":0.084},{"k":38,"w":550,"r":0.17},{"k":38,"w":600,"r":0.13},{"k":38,"w":640,"r":0.094},{"k":38,"w":680,"r":0.064},{"k":38,"w":700,"r":0.084},{"k":38,"w":725,"r":0.26},{"k":38,"w":755,"r":0.4},{"k":38,"w":900,"r":0.42},{"k":38,"w":960,"r":0.41},{"k":38,"w":1070,"r":0.42},{"k":38,"w":1130,"r":0.42},{"k":38,"w":1170,"r":0.39},{"k":38,"w":1260,"r":0.39},{"k":38,"w":1330,"r":0.37},{"k":38,"w":1400,"r":0.256},{"k":38,"w":1450,"r":0.141},{"k":38,"w":1550,"r":0.231},{"k":38,"w":1650,"r":0.27},{"k":38,"w":1850,"r":0.248},{"k":38,"w":1880,"r":0.15},{"k":38,"w":1920,"r":0.052},{"k":38,"w":2000,"r":0.084},{"k":38,"w":2200,"r":0.149},{"k":38,"w":2350,"r":0.094},{"k":38,"w":2490,"r":0.049},
{"k":39,"w":400,"r":0.07},{"k":39,"w":460,"r":0.064},{"k":39,"w":500,"r":0.074},{"k":39,"w":550,"r":0.16},{"k":39,"w":600,"r":0.12},{"k":39,"w":640,"r":0.084},{"k":39,"w":680,"r":0.056},{"k":39,"w":700,"r":0.096},{"k":39,"w":725,"r":0.3},{"k":39,"w":755,"r":0.46},{"k":39,"w":900,"r":0.48},{"k":39,"w":960,"r":0.47},{"k":39,"w":1070,"r":0.48},{"k":39,"w":1130,"r":0.48},{"k":39,"w":1170,"r":0.44},{"k":39,"w":1260,"r":0.45},{"k":39,"w":1330,"r":0.42},{"k":39,"w":1400,"r":0.304},{"k":39,"w":1450,"r":0.187},{"k":39,"w":1550,"r":0.287},{"k":39,"w":1650,"r":0.33},{"k":39,"w":1850,"r":0.304},{"k":39,"w":1880,"r":0.193},{"k":39,"w":1920,"r":0.083},{"k":39,"w":2000,"r":0.13},{"k":39,"w":2200,"r":0.191},{"k":39,"w":2350,"r":0.132},{"k":39,"w":2490,"r":0.083},
{"k":40,"w":400,"r":0.08},{"k":40,"w":460,"r":0.074},{"k":40,"w":500,"r":0.084},{"k":40,"w":550,"r":0.15},{"k":40,"w":600,"r":0.119},{"k":40,"w":640,"r":0.091},{"k":40,"w":680,"r":0.064},{"k":40,"w":700,"r":0.092},{"k":40,"w":725,"r":0.29},{"k":40,"w":755,"r":0.44},{"k":40,"w":900,"r":0.46},{"k":40,"w":960,"r":0.45},{"k":40,"w":1070,"r":0.46},{"k":40,"w":1130,"r":0.46},{"k":40,"w":1170,"r":0.42},{"k":40,"w":1260,"r":0.43},{"k":40,"w":1330,"r":0.4},{"k":40,"w":1400,"r":0.286},{"k":40,"w":1450,"r":0.172},{"k":40,"w":1550,"r":0.269},{"k":40,"w":1650,"r":0.31},{"k":40,"w":1850,"r":0.285},{"k":40,"w":1880,"r":0.179},{"k":40,"w":1920,"r":0.073},{"k":40,"w":2000,"r":0.115},{"k":40,"w":2200,"r":0.177},{"k":40,"w":2350,"r":0.119},{"k":40,"w":2490,"r":0.072},
{"k":41,"w":400,"r":0.06},{"k":41,"w":460,"r":0.055},{"k":41,"w":500,"r":0.063},{"k":41,"w":550,"r":0.13},{"k":41,"w":600,"r":0.099},{"k":41,"w":640,"r":0.071},{"k":41,"w":680,"r":0.048},{"k":41,"w":700,"r":0.12},{"k":41,"w":725,"r":0.37},{"k":41,"w":755,"r":0.57},{"k":41,"w":900,"r":0.6},{"k":41,"w":960,"r":0.58},{"k":41,"w":1070,"r":0.6},{"k":41,"w":1130,"r":0.6},{"k":41,"w":1170,"r":0.55},{"k":41,"w":1260,"r":0.56},{"k":41,"w":1330,"r":0.52},{"k":41,"w":1400,"r":0.397},{"k":41,"w":1450,"r":0.273},{"k":41,"w":1550,"r":0.39},{"k":41,"w":1650,"r":0.44},{"k":41,"w":1850,"r":0.405},{"k":41,"w":1880,"r":0.273},{"k":41,"w":1920,"r":0.141},{"k":41,"w":2000,"r":0.215},{"k":41,"w":2200,"r":0.268},{"k":41,"w":2350,"r":0.201},{"k":41,"w":2490,"r":0.144},
{"k":42,"w":400,"r":0.09},{"k":42,"w":460,"r":0.083},{"k":42,"w":500,"r":0.095},{"k":42,"w":550,"r":0.18},{"k":42,"w":600,"r":0.14},{"k":42,"w":640,"r":0.104},{"k":42,"w":680,"r":0.072},{"k":42,"w":700,"r":0.1},{"k":42,"w":725,"r":0.31},{"k":42,"w":755,"r":0.48},{"k":42,"w":900,"r":0.5},{"k":42,"w":960,"r":0.49},{"k":42,"w":1070,"r":0.5},{"k":42,"w":1130,"r":0.5},{"k":42,"w":1170,"r":0.46},{"k":42,"w":1260,"r":0.47},{"k":42,"w":1330,"r":0.44},{"k":42,"w":1400,"r":0.322},{"k":42,"w":1450,"r":0.203},{"k":42,"w":1550,"r":0.306},{"k":42,"w":1650,"r":0.35},{"k":42,"w":1850,"r":0.322},{"k":42,"w":1880,"r":0.208},{"k":42,"w":1920,"r":0.094},{"k":42,"w":2000,"r":0.146},{"k":42,"w":2200,"r":0.205},{"k":42,"w":2350,"r":0.145},{"k":42,"w":2490,"r":0.094},
{"k":43,"w":400,"r":0.06},{"k":43,"w":460,"r":0.055},{"k":43,"w":500,"r":0.063},{"k":43,"w":550,"r":0.1},{"k":43,"w":600,"r":0.082},{"k":43,"w":640,"r":0.066},{"k":43,"w":680,"r":0.048},{"k":43,"w":700,"r":0.088},{"k":43,"w":725,"r":0.27},{"k":43,"w":755,"r":0.42},{"k":43,"w":900,"r":0.44},{"k":43,"w":960,"r":0.43},{"k":43,"w":1070,"r":0.44},{"k":43,"w":1130,"r":0.44},{"k":43,"w":1170,"r":0.4},{"k":43,"w":1260,"r":0.41},{"k":43,"w":1330,"r":0.38},{"k":43,"w":1400,"r":0.264},{"k":43,"w":1450,"r":0.148},{"k":43,"w":1550,"r":0.24},{"k":43,"w":1650,"r":0.28},{"k":43,"w":1850,"r":0.258},{"k":43,"w":1880,"r":0.157},{"k":43,"w":1920,"r":0.057},{"k":43,"w":2000,"r":0.092},{"k":43,"w":2200,"r":0.156},{"k":43,"w":2350,"r":0.1},{"k":43,"w":2490,"r":0.055},
{"k":44,"w":400,"r":0.1},{"k":44,"w":460,"r":0.092},{"k":44,"w":500,"r":0.105},{"k":44,"w":550,"r":0.17},{"k":44,"w":600,"r":0.139},{"k":44,"w":640,"r":0.111},{"k":44,"w":680,"r":0.08},{"k":44,"w":700,"r":0.124},{"k":44,"w":725,"r":0.4},{"k":44,"w":755,"r":0.6},{"k":44,"w":900,"r":0.62},{"k":44,"w":960,"r":0.62},{"k":44,"w":1070,"r":0.63},{"k":44,"w":1130,"r":0.63},{"k":44,"w":1170,"r":0.62},{"k":44,"w":1260,"r":0.62},{"k":44,"w":1330,"r":0.6},{"k":44,"w":1400,"r":0.5},{"k":44,"w":1450,"r":0.42},{"k":44,"w":1550,"r":0.44},{"k":44,"w":1650,"r":0.5},{"k":44,"w":1850,"r":0.47},{"k":44,"w":1880,"r":0.32},{"k":44,"w":1920,"r":0.19},{"k":44,"w":2000,"r":0.31},{"k":44,"w":2200,"r":0.31},{"k":44,"w":2350,"r":0.25},{"k":44,"w":2490,"r":0.19},
{"k":45,"w":400,"r":0.07},{"k":45,"w":460,"r":0.064},{"k":45,"w":500,"r":0.074},{"k":45,"w":550,"r":0.15},{"k":45,"w":600,"r":0.114},{"k":45,"w":640,"r":0.082},{"k":45,"w":680,"r":0.056},{"k":45,"w":700,"r":0.106},{"k":45,"w":725,"r":0.33},{"k":45,"w":755,"r":0.5},{"k":45,"w":900,"r":0.53},{"k":45,"w":960,"r":0.51},{"k":45,"w":1070,"r":0.53},{"k":45,"w":1130,"r":0.53},{"k":45,"w":1170,"r":0.49},{"k":45,"w":1260,"r":0.49},{"k":45,"w":1330,"r":0.46},{"k":45,"w":1400,"r":0.336},{"k":45,"w":1450,"r":0.211},{"k":45,"w":1550,"r":0.315},{"k":45,"w":1650,"r":0.36},{"k":45,"w":1850,"r":0.331},{"k":45,"w":1880,"r":0.215},{"k":45,"w":1920,"r":0.099},{"k":45,"w":2000,"r":0.153},{"k":45,"w":2200,"r":0.212},{"k":45,"w":2350,"r":0.151},{"k":45,"w":2490,"r":0.1},
{"k":46,"w":400,"r":0.06},{"k":46,"w":460,"r":0.055},{"k":46,"w":500,"r":0.063},{"k":46,"w":550,"r":0.14},{"k":46,"w":600,"r":0.104},{"k":46,"w":640,"r":0.072},{"k":46,"w":680,"r":0.048},{"k":46,"w":700,"r":0.098},{"k":46,"w":725,"r":0.3},{"k":46,"w":755,"r":0.47},{"k":46,"w":900,"r":0.49},{"k":46,"w":960,"r":0.48},{"k":46,"w":1070,"r":0.49},{"k":46,"w":1130,"r":0.49},{"k":46,"w":1170,"r":0.45},{"k":46,"w":1260,"r":0.46},{"k":46,"w":1330,"r":0.43},{"k":46,"w":1400,"r":0.313},{"k":46,"w":1450,"r":0.195},{"k":46,"w":1550,"r":0.297},{"k":46,"w":1650,"r":0.34},{"k":46,"w":1850,"r":0.313},{"k":46,"w":1880,"r":0.201},{"k":46,"w":1920,"r":0.089},{"k":46,"w":2000,"r":0.138},{"k":46,"w":2200,"r":0.198},{"k":46,"w":2350,"r":0.138},{"k":46,"w":2490,"r":0.088},
{"k":47,"w":400,"r":0.08},{"k":47,"w":460,"r":0.074},{"k":47,"w":500,"r":0.084},{"k":47,"w":550,"r":0.17},{"k":47,"w":600,"r":0.13},{"k":47,"w":640,"r":0.094},{"k":47,"w":680,"r":0.064},{"k":47,"w":700,"r":0.114},{"k":47,"w":725,"r":0.35},{"k":47,"w":755,"r":0.54},{"k":47,"w":900,"r":0.57},{"k":47,"w":960,"r":0.55},{"k":47,"w":1070,"r":0.57},{"k":47,"w":1130,"r":0.57},{"k":47,"w":1170,"r":0.52},{"k":47,"w":1260,"r":0.53},{"k":47,"w":1330,"r":0.5},{"k":47,"w":1400,"r":0.367},{"k":47,"w":1450,"r":0.234},{"k":47,"w":1550,"r":0.343},{"k":47,"w":1650,"r":0.39},{"k":47,"w":1850,"r":0.359},{"k":47,"w":1880,"r":0.237},{"k":47,"w":1920,"r":0.115},{"k":47,"w":2000,"r":0.176},{"k":47,"w":2200,"r":0.233},{"k":47,"w":2350,"r":0.17},{"k":47,"w":2490,"r":0.116},
{"k":48,"w":400,"r":0.07},{"k":48,"w":460,"r":0.064},{"k":48,"w":500,"r":0.074},{"k":48,"w":550,"r":0.16},{"k":48,"w":600,"r":0.12},{"k":48,"w":640,"r":0.084},{"k":48,"w":680,"r":0.056},{"k":48,"w":700,"r":0.104},{"k":48,"w":725,"r":0.32},{"k":48,"w":755,"r":0.49},{"k":48,"w":900,"r":0.52},{"k":48,"w":960,"r":0.5},{"k":48,"w":1070,"r":0.52},{"k":48,"w":1130,"r":0.52},{"k":48,"w":1170,"r":0.48},{"k":48,"w":1260,"r":0.48},{"k":48,"w":1330,"r":0.45},{"k":48,"w":1400,"r":0.33},{"k":48,"w":1450,"r":0.211},{"k":48,"w":1550,"r":0.315},{"k":48,"w":1650,"r":0.36},{"k":48,"w":1850,"r":0.331},{"k":48,"w":1880,"r":0.215},{"k":48,"w":1920,"r":0.099},{"k":48,"w":2000,"r":0.153},{"k":48,"w":2200,"r":0.212},{"k":48,"w":2350,"r":0.151},{"k":48,"w":2490,"r":0.1}
]},
"data":{"name":"refl"},
"transform":[{"lookup":"k","from":{"data":{"name":"sp"},"key":"k","fields":["s"]}}],
"mark":{"type":"line","strokeWidth":1,"interpolate":"monotone","clip":true},
"encoding":{
"x":{"field":"w","type":"quantitative","scale":{"domain":[400,2500],"nice":false,"zero":false},
"axis":{"values":[400,600,800,1000,1200,1400,1600,1800,2000,2200,2400],"title":"Wavelength (nm)","titleColor":"#4A4FA3","titleFont":"Lato","titleFontSize":11,"titleFontWeight":"bold","titlePadding":6,"labelColor":"#4A4FA3","labelFont":"Lato","labelFontSize":11,"labelFontWeight":"bold","labelPadding":3,"tickSize":4,"tickColor":"#A6A6A6","domainColor":"#A6A6A6","grid":false,"labelFlush":false}},
"y":{"field":"r","type":"quantitative","scale":{"domain":[0,0.9],"nice":false},
"axis":{"values":[0,0.1,0.2,0.3,0.4,0.5,0.6,0.7,0.8,0.9],"format":".1f","title":"Reflectance","titleColor":"#4A4FA3","titleFont":"Lato","titleFontSize":11,"titleFontWeight":"bold","titlePadding":10,"labelColor":"#4A4FA3","labelFont":"Lato","labelFontSize":11,"labelFontWeight":"bold","labelPadding":6,"tickSize":4,"tickColor":"#A6A6A6","domainColor":"#A6A6A6","grid":false}},
"color":{"field":"s","type":"nominal",
"scale":{"domain":["Abies pindrow","Acacia catechu","Acacia modesta","Aegle marmelos","Albizia lebbeck","Albizia chinensis","Bombax ceiba","Calophyllum  inophyllum","Cassia fistula","Cedrus deodara","Celtis australis","Dalbergia sissoo","Ficus benghalensis","Ficus benjamina","Grewia otiva","Jacaranda  mimosifolia","Juglans regia","Kydia calycina","lannea coromandelica","Lantana camera","Leucaena leucocephala","Mallotus philippensis","Melia azadirachta","Morus alba","Phyllanthus emblica","Picea smithiana","Pinus roxburghii","Prunus communis","Prunus persica","Prunus armeniaca","Prunus cornuta","Punica granatum","Putranjiva roxburghii","Pyrus pashia","Quercus leucotrichophora","Quercus floribunda","Rhododendron  arboreum","Robinia pseudoacacia","Santalum album","Sapandus  mukorossi","Shorea robusta","Syzygium cuminii","Taxus baccata","Terminalia alata","Terminalia bellirica","Toona cilata","Vitex negundo","Wendlandia heynei"],
"range":["#1F3864","#7B2C2C","#4F6228","#6F6F95","#9FB9CC","#E6A77F","#8EA6C8","#C9A090","#B8C99A","#3F3151","#31859C","#984807","#95B3D7","#E0736F","#C3D69B","#8B7BA8","#A0A0A0","#F4B183","#2E75B6","#8B1A1A","#5F7530","#7F6FA8","#8FA8BF","#F4A460","#7F93B0","#F2A6A0","#C4D79B","#6A5A80","#4A7F9C","#E68A3C","#8AA0B8","#E8A08C","#B5C98F","#9A8DB8","#A8C8D8","#F0B080","#6A86B0","#C05050","#8FA860","#B8A8D0","#93CDDD","#FAC090","#7890B0","#F4B8B0","#D8E4BC","#C8B8D8","#B8D8E8","#FCD5B4"]},
"legend":{"title":null,"orient":"none","legendX":8,"legendY":331,"columns":3,"direction":"horizontal","gridAlign":"all","symbolType":"stroke","symbolSize":121,"symbolStrokeWidth":1.5,"labelFont":"Lato","labelFontStyle":"italic","labelFontWeight":"bold","labelFontSize":11,"labelColor":"#000000","labelOffset":1,"labelLimit":220,"rowPadding":2,"columnPadding":26,"symbolLimit":60}}
}
}
